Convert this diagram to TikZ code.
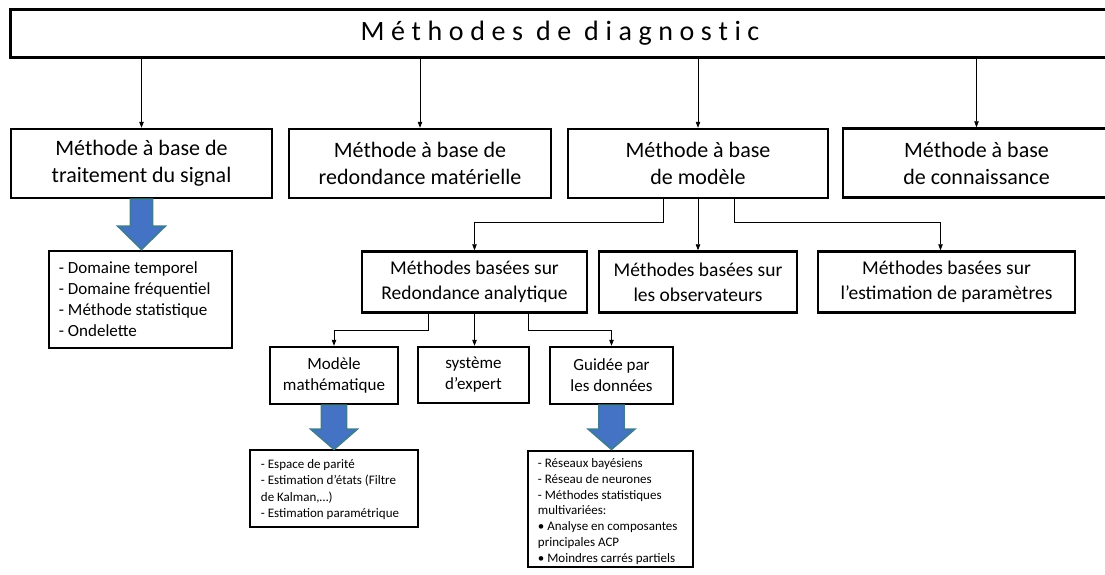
\documentclass[tikz,border=0pt]{standalone}
\usepackage{fontspec}
\setmainfont{Carlito}
\usetikzlibrary{arrows.meta,calc}
\definecolor{arrfill}{HTML}{4472C4}
\definecolor{arrline}{HTML}{3F7B92}
\newcommand{\lsp}{\kern6.6pt}
\tikzset{
  box/.style={draw, line width=2.5pt, inner sep=0pt, align=center, fill=white},
  lvlone/.style={box, font=\fontsize{22}{27}\selectfont},
  lvltwo/.style={box, font=\fontsize{19.5}{25}\selectfont},
  lvlthree/.style={box, font=\fontsize{17}{21}\selectfont},
  listbox/.style={draw, line width=2.5pt, inner sep=0pt, fill=white},
  listtext/.style={inner sep=0pt, align=left, anchor=west},
  conn/.style={draw, line width=0.7pt, -{Triangle[length=6pt,width=4.5pt]}},
  bigarrow/.style={fill=arrfill, draw=arrline, line width=1.8pt, line join=miter}
}
\begin{document}
\begin{tikzpicture}[x=1pt,y=-1pt]
\useasboundingbox (0,0) rectangle (1105,574);
\clip (0,0) rectangle (1105,574);
\fill[white] (0,0) rectangle (1105,574);

% title
\node[box, line width=3pt, minimum width=1100pt, minimum height=48pt,
      font=\fontsize{28}{32}\selectfont] (T) at (560,33)
  {\raisebox{-2pt}{M\lsp é\lsp t\lsp h\lsp o\lsp d\lsp e\lsp s\lsp\ d\lsp e\lsp\ d\lsp i\lsp a\lsp g\lsp n\lsp o\lsp s\lsp t\lsp i\lsp c}};

% level 1
\node[lvlone, minimum width=261pt, minimum height=69pt] (A) at (141.5,163.5)
  {Méthode à base de\\traitement du signal};
\node[lvlone, minimum width=262pt, minimum height=69pt] (B) at (420,163.5)
  {Méthode à base de\\redondance matérielle};
\node[lvlone, minimum width=260pt, minimum height=69pt] (C) at (698,163.5)
  {Méthode à base\\de modèle};
\node[lvlone, minimum width=267pt, minimum height=69pt] (D) at (976.5,163)
  {Méthode à base\\de connaissance};

% level 2
\node[lvltwo, minimum width=225pt, minimum height=61pt] (RA) at (474.5,282)
  {Méthodes basées sur\\Redondance analytique};
\node[lvltwo, minimum width=198pt, minimum height=61pt] (Obs) at (698,282)
  {Méthodes basées sur\\les observateurs};
\node[lvltwo, minimum width=257pt, minimum height=61pt] (Est) at (946.5,282)
  {Méthodes basées sur\\l’estimation de paramètres};

% level 3
\node[lvlthree, minimum width=128pt, minimum height=57pt] (MM) at (334,375.5)
  {Modèle\\mathématique};
\node[lvlthree, minimum width=111pt, minimum height=56pt] (SE) at (473.5,375)
  {système\\d’expert};
\node[lvlthree, minimum width=123pt, minimum height=57pt] (GD) at (611.5,375.5)
  {Guidée par\\les données};

% list boxes
\node[listbox, minimum width=183pt, minimum height=97pt] (L1) at (140.5,299.5) {};
\node[listtext, font=\fontsize{17}{21}\selectfont] (L1t) at ([xshift=11pt]L1.west)
  {- Domaine temporel\\- Domaine fréquentiel\\- Méthode statistique\\- Ondelette};

\node[listbox, minimum width=168pt, minimum height=77pt] (L2) at (334,488.5) {};
\node[listtext, font=\fontsize{13}{16.3}\selectfont] (L2t) at ([xshift=12pt,yshift=-1pt]L2.west)
  {- Espace de parité\\- Estimation d’états (Filtre\\de Kalman,…)\\- Estimation paramétrique};

\node[listbox, minimum width=165pt, minimum height=116pt] (L3) at (610.5,509) {};
\node[listtext, font=\fontsize{13}{15.8}\selectfont] (L3t) at ([xshift=11pt,yshift=-2.5pt]L3.west)
  {- Réseaux bayésiens\\- Réseau de neurones\\- Méthodes statistiques\\multivariées:\\• Analyse en composantes\\principales ACP\\• Moindres carrés partiels};

% connectors from title
\draw[conn] (T.south -| A.north) -- (A.north);
\draw[conn] (T.south -| B.north) -- (B.north);
\draw[conn] (T.south -| C.north) -- (C.north);
\draw[conn] (T.south -| D.north) -- (D.north);

% connectors from C
\draw[conn] ([xshift=-35pt]C.south) -- ++(0,23) -| (RA.north);
\draw[conn] (C.south) -- (C.south |- Obs.north);
\draw[conn] ([xshift=36pt]C.south) -- ++(0,23) -| ([xshift=-6pt]Est.north);

% connectors from RA
\draw[conn] ([xshift=-46pt]RA.south) -- ++(0,17) -| (MM.north);
\draw[conn] (RA.south) -- (RA.south |- SE.north);
\draw[conn] ([xshift=54pt]RA.south) -- ++(0,17) -| (GD.north);

% block arrows
\path[bigarrow] ([xshift=-11pt]A.south) -- ++(0,27) -- ++(-12.5,0) -- ++(23.5,23)
  -- ++(23.5,-23) -- ++(-12.5,0) -- ++(0,-27) -- cycle;
\path[bigarrow] ([xshift=-12.5pt]MM.south) -- ++(0,24) -- ++(-10.5,0) -- ++(23,20)
  -- ++(23,-20) -- ++(-10.5,0) -- ++(0,-24) -- cycle;
\path[bigarrow] ([xshift=-12.5pt]GD.south) -- ++(0,24) -- ++(-10.5,0) -- ++(23,20)
  -- ++(23,-20) -- ++(-10.5,0) -- ++(0,-24) -- cycle;
\end{tikzpicture}
\end{document}
